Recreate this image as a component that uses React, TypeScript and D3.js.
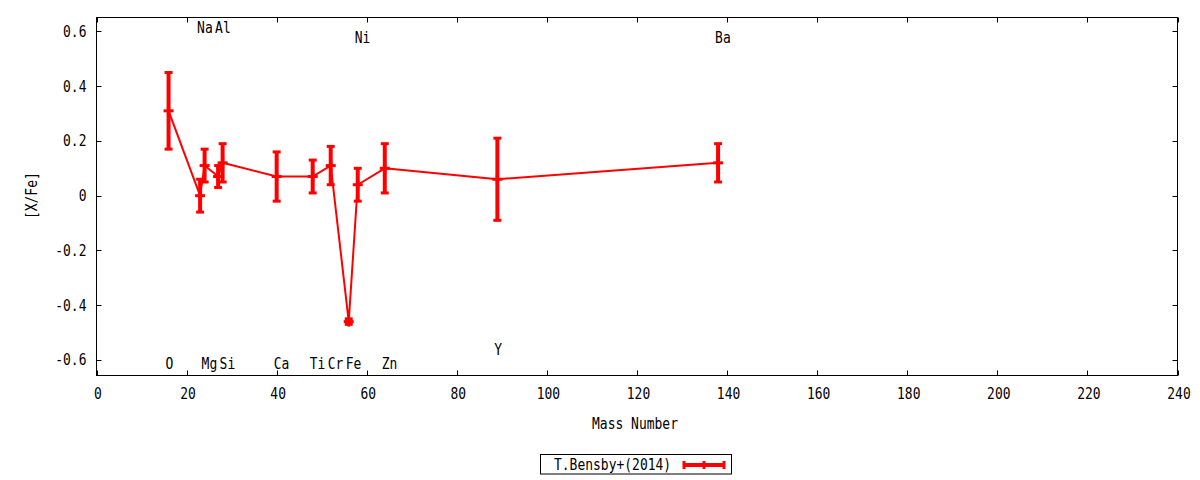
import * as d3 from "d3";
import { useEffect, useRef } from "react";

// element abundances vs mass number
const ELEMENTS = ["O", "Na", "Mg", "Al", "Si", "Ca", "Ti", "Cr", "Fe", "Ni", "Zn", "Y", "Ba"];
const MASS = [16, 23, 24, 27, 28, 40, 48, 52, 56, 58, 64, 89, 138];
const XFE = [0.31, 0.0, 0.11, 0.07, 0.12, 0.07, 0.07, 0.11, -0.46, 0.04, 0.1, 0.06, 0.12];
const ERR = [0.14, 0.06, 0.06, 0.04, 0.07, 0.09, 0.06, 0.07, 0.01, 0.06, 0.09, 0.15, 0.07];
// where each element name sits (in [X/Fe] units)
const LABEL_Y = [-0.614, 0.614, -0.614, 0.614, -0.614, -0.614, -0.614, -0.614, -0.614, 0.577, -0.614, -0.563, 0.577];

const X_TICKS = [0, 20, 40, 60, 80, 100, 120, 140, 160, 180, 200, 220, 240];
const Y_TICKS = [-0.6, -0.4, -0.2, 0, 0.2, 0.4, 0.6];
const Y_TICK_LABELS = ["-0.6", "-0.4", "-0.2", "0", "0.2", "0.4", "0.6"];
const SERIES_NAME = "T.Bensby+(2014)";

const W = 1200;
const H = 480;
const FONT = "'DejaVu Sans Mono', monospace";
const RED = "#ff0000";
// gnuplot's font is narrower than DejaVu Sans Mono, squeeze it a bit
const SX = 0.865;

type G = d3.Selection<SVGSVGElement | SVGGElement, unknown, null, undefined>;

function label(
  parent: G,
  x: number,
  y: number,
  s: string,
  anchor: "start" | "middle" | "end" = "start",
  rotate = 0,
) {
  return parent.append("text")
    .attr("transform", `translate(${x},${y}) rotate(${rotate}) scale(${SX},1)`)
    .attr("font-family", FONT)
    .attr("font-size", 15)
    .attr("fill", "#000")
    .attr("text-anchor", anchor)
    .attr("dominant-baseline", "central")
    .text(s);
}

export default function App() {
  const ref = useRef<SVGSVGElement>(null);

  useEffect(() => {
    if (!ref.current) return;
    const svg = d3.select(ref.current) as unknown as G;
    svg.selectAll("*").remove();

    const m = { left: 96.5, right: 1177.5, top: 17.5, bottom: 375.5 };
    const x = d3.scaleLinear().domain([0, 240]).range([m.left, m.right]);
    const y = d3.scaleLinear().domain([-0.657, 0.651]).range([m.bottom, m.top]);

    // frame
    svg.append("rect")
      .attr("x", m.left).attr("y", m.top)
      .attr("width", m.right - m.left).attr("height", m.bottom - m.top)
      .attr("fill", "none").attr("stroke", "#000").attr("stroke-width", 1);

    const tl = 5;
    // x ticks, mirrored on top
    X_TICKS.forEach((t) => {
      const px = Math.round(x(t)) + 0.5;
      svg.append("line").attr("x1", px).attr("x2", px)
        .attr("y1", m.bottom).attr("y2", m.bottom - tl).attr("stroke", "#000");
      svg.append("line").attr("x1", px).attr("x2", px)
        .attr("y1", m.top).attr("y2", m.top + tl).attr("stroke", "#000");
      label(svg, x(t) + 1.5, 394, String(t), "middle");
    });

    // y ticks, mirrored on right
    Y_TICKS.forEach((t, i) => {
      const py = Math.round(y(t)) + 0.5;
      svg.append("line").attr("x1", m.left).attr("x2", m.left + tl)
        .attr("y1", py).attr("y2", py).attr("stroke", "#000");
      svg.append("line").attr("x1", m.right).attr("x2", m.right - tl)
        .attr("y1", py).attr("y2", py).attr("stroke", "#000");
      label(svg, 86.5, y(t), Y_TICK_LABELS[i], "end");
    });

    // axis titles
    label(svg, 635, 424, "Mass Number", "middle");
    label(svg, 32, y(0), "[X/Fe]", "middle", -90);

    // element names
    ELEMENTS.forEach((e, i) => {
      label(svg, x(MASS[i]) - 3, y(LABEL_Y[i]), e);
    });

    const data = MASS.map((mass, i) => ({ mass, v: XFE[i], e: ERR[i] }));

    const line = d3.line<{ mass: number; v: number }>()
      .x((d) => x(d.mass))
      .y((d) => y(d.v));

    svg.append("path")
      .datum(data)
      .attr("fill", "none")
      .attr("stroke", RED)
      .attr("stroke-width", 2)
      .attr("stroke-linejoin", "round")
      .attr("d", line);

    // error bars + plus markers
    const g = svg.append("g").attr("stroke", RED);
    data.forEach((d) => {
      const cx = x(d.mass);
      const top = y(d.v + d.e);
      const bot = y(d.v - d.e);
      g.append("line").attr("x1", cx).attr("x2", cx)
        .attr("y1", top).attr("y2", bot).attr("stroke-width", 4);
      [top, bot].forEach((cy) => {
        g.append("line").attr("x1", cx - 4).attr("x2", cx + 4)
          .attr("y1", cy).attr("y2", cy).attr("stroke-width", 3);
      });
      const cy = y(d.v);
      g.append("line").attr("x1", cx - 5).attr("x2", cx + 5)
        .attr("y1", cy).attr("y2", cy).attr("stroke-width", 3);
      g.append("line").attr("x1", cx).attr("x2", cx)
        .attr("y1", cy - 5).attr("y2", cy + 5).attr("stroke-width", 3);
    });

    // legend
    const lg = svg.append("g") as unknown as G;
    lg.append("rect")
      .attr("x", 540.5).attr("y", 454.5).attr("width", 191).attr("height", 19.5)
      .attr("fill", "none").attr("stroke", "#000");
    label(lg, 554, 465, SERIES_NAME);
    lg.append("line").attr("x1", 683).attr("x2", 725)
      .attr("y1", 465).attr("y2", 465).attr("stroke", RED).attr("stroke-width", 4);
    [684, 704, 724].forEach((lx) => {
      lg.append("line").attr("x1", lx).attr("x2", lx)
        .attr("y1", 461).attr("y2", 469).attr("stroke", RED).attr("stroke-width", 3);
    });
  }, []);

  return (
    <svg
      ref={ref}
      width={W}
      height={H}
      style={{ position: "absolute", left: 0, top: 0, background: "#fff" }}
    />
  );
}
